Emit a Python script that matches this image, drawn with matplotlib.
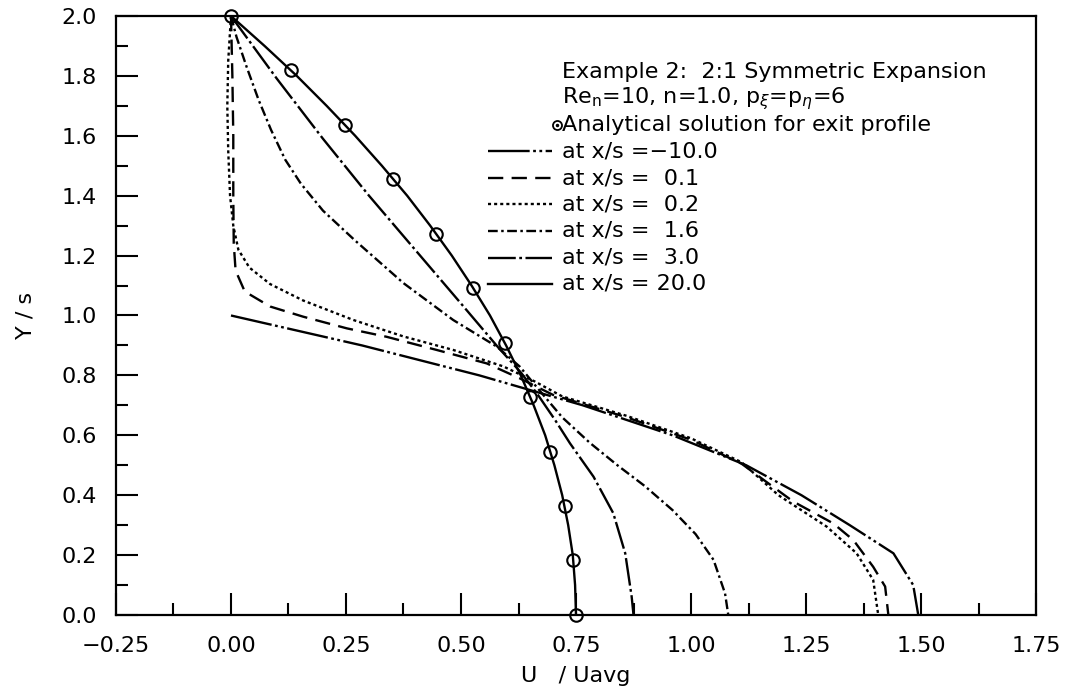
import matplotlib
matplotlib.use("Agg")
import matplotlib.pyplot as plt
from matplotlib.ticker import MultipleLocator

plt.rcParams["font.family"] = ["DejaVu Sans"]
plt.rcParams["mathtext.fontset"] = "dejavusans"
plt.rcParams["lines.scale_dashes"] = False

# analytical exit profile (circles)
y_exact = [2.0, 1.818, 1.636, 1.455, 1.273, 1.091, 0.909, 0.727, 0.545, 0.364, 0.182, 0.0]
u_exact = [0.0, 0.130, 0.248, 0.353, 0.446, 0.527, 0.595, 0.651, 0.694, 0.725, 0.744, 0.75]

# x/s = -10.0
y_m10 = [1.0, 0.9, 0.8, 0.7, 0.6, 0.5, 0.4, 0.3, 0.206, 0.1, 0.0]
u_m10 = [0.0, 0.285, 0.54, 0.765, 0.96, 1.12, 1.24, 1.345, 1.44, 1.483, 1.494]

# x/s = 0.1
y_01 = [2.0, 1.8, 1.6, 1.4, 1.24, 1.15, 1.08, 1.03, 0.996, 0.957, 0.929, 0.885,
        0.84, 0.79, 0.735, 0.66, 0.585, 0.505, 0.379, 0.306, 0.25, 0.161, 0.095, 0.0]
u_01 = [0.0, 0.003, 0.005, 0.005, 0.006, 0.01, 0.03, 0.085, 0.157, 0.252, 0.338, 0.447,
        0.556, 0.628, 0.70, 0.86, 1.0, 1.11, 1.222, 1.309, 1.353, 1.396, 1.422, 1.429]

# x/s = 0.2
y_02 = [2.0, 1.85, 1.7, 1.55, 1.4, 1.3, 1.22, 1.16, 1.105, 1.05, 0.985, 0.93,
        0.885, 0.83, 0.78, 0.73, 0.665, 0.59, 0.51, 0.40, 0.295, 0.206, 0.117, 0.0]
u_02 = [0.0, -0.006, -0.008, -0.006, -0.002, 0.005, 0.016, 0.04, 0.085, 0.157, 0.266, 0.375,
        0.483, 0.592, 0.66, 0.72, 0.86, 1.0, 1.11, 1.19, 1.295, 1.36, 1.396, 1.407]

# x/s = 1.6
y_16 = [2.0, 1.93, 1.83, 1.72, 1.62, 1.52, 1.44, 1.35, 1.25, 1.108, 0.985, 0.896,
        0.829, 0.76, 0.66, 0.575, 0.50, 0.43, 0.35, 0.27, 0.184, 0.072, 0.0]
u_16 = [0.0, 0.012, 0.034, 0.06, 0.087, 0.118, 0.152, 0.2, 0.27, 0.375, 0.483, 0.578,
        0.628, 0.665, 0.72, 0.78, 0.84, 0.9, 0.96, 1.01, 1.049, 1.074, 1.081]

# x/s = 3.0
y_30 = [2.0, 1.79, 1.59, 1.40, 1.22, 1.04, 0.895, 0.81, 0.74, 0.65, 0.573, 0.462,
        0.34, 0.206, 0.061, 0.0]
u_30 = [0.0, 0.1, 0.2, 0.3, 0.4, 0.5, 0.58, 0.63, 0.665, 0.705, 0.737, 0.788,
        0.831, 0.857, 0.871, 0.875]

# x/s = 20.0
y_20 = [2.0, 1.9, 1.8, 1.7, 1.6, 1.5, 1.4, 1.3, 1.2, 1.1, 1.0,
        0.9, 0.8, 0.7, 0.6, 0.5, 0.4, 0.3, 0.2, 0.1, 0.0]
u_20 = [0.0, 0.073, 0.143, 0.208, 0.27, 0.328, 0.383, 0.433, 0.48, 0.523, 0.563,
        0.598, 0.63, 0.658, 0.683, 0.703, 0.72, 0.733, 0.743, 0.748, 0.75]

series = [
    ("at x/s =\u221210.0", u_m10, y_m10, (0, (30, 2.5, 2, 2.5, 2, 2.5))),
    ("at x/s =  0.1", u_01, y_01, (0, (11, 6))),
    ("at x/s =  0.2", u_02, y_02, (0, (2.2, 2.2))),
    ("at x/s =  1.6", u_16, y_16, (0, (7, 2.5, 1.8, 2.5))),
    ("at x/s =  3.0", u_30, y_30, (0, (20, 2.5, 2, 2.5))),
    ("at x/s = 20.0", u_20, y_20, "-"),
]

fig = plt.figure(figsize=(10.65, 6.95), dpi=100)
ax = fig.add_axes([0.1089, 0.1151, 0.8639, 0.8619])

lw = 1.7
for label, u, y, ls in series:
    ax.plot(u, y, color="black", lw=lw, linestyle=ls)
ax.plot(u_exact, y_exact, linestyle="none", marker="o", ms=9, mfc="none",
        mec="black", mew=1.5, clip_on=False)

ax.set_xlim(-0.25, 1.75)
ax.set_ylim(0.0, 2.0)
ax.xaxis.set_major_locator(MultipleLocator(0.25))
ax.xaxis.set_minor_locator(MultipleLocator(0.125))
ax.yaxis.set_major_locator(MultipleLocator(0.2))
ax.yaxis.set_minor_locator(MultipleLocator(0.1))
ax.tick_params(which="both", direction="in", top=False, right=False, width=1.5, labelsize=16)
ax.tick_params(which="major", length=15.5)
ax.tick_params(which="minor", length=8.5)
ax.tick_params(axis="x", which="major", pad=15)
ax.tick_params(axis="y", which="major", pad=14)
for s in ax.spines.values():
    s.set_linewidth(1.6)

ax.set_xlabel("U   / Uavg", fontsize=16)
ax.set_ylabel("Y / s", fontsize=16)
ax.xaxis.set_label_coords(0.5, -0.085)
ax.yaxis.set_label_coords(-0.087, 0.5)

# key block in the upper right
fs = 16
tx = 0.4848
rows = [0.9065, 0.8623, 0.8180, 0.7738, 0.7295, 0.6853, 0.6411, 0.5968, 0.5526]
ax.text(tx, rows[0], "Example 2:  2:1 Symmetric Expansion", transform=ax.transAxes,
        fontsize=fs, va="center")
ax.text(tx, rows[1], r"Re$_\mathregular{n}$=10, n=1.0, p$_\xi$=p$_\eta$=6",
        transform=ax.transAxes, fontsize=fs, va="center")
ax.plot([0.4793], [rows[2]], transform=ax.transAxes, marker="o", ms=6.5, mfc="none",
        mec="black", mew=1.3)
ax.plot([0.4793], [rows[2]], transform=ax.transAxes, marker="o", ms=1.5, color="black")
ax.text(tx, rows[2], "Analytical solution for exit profile", transform=ax.transAxes,
        fontsize=fs, va="center")
for i, (label, u, y, ls) in enumerate(series):
    r = rows[3 + i]
    ax.plot([0.4043, 0.4739], [r, r], transform=ax.transAxes, color="black", lw=lw,
            linestyle=ls)
    ax.text(tx, r, label, transform=ax.transAxes, fontsize=fs, va="center")

fig.savefig("out.png", dpi=100)
